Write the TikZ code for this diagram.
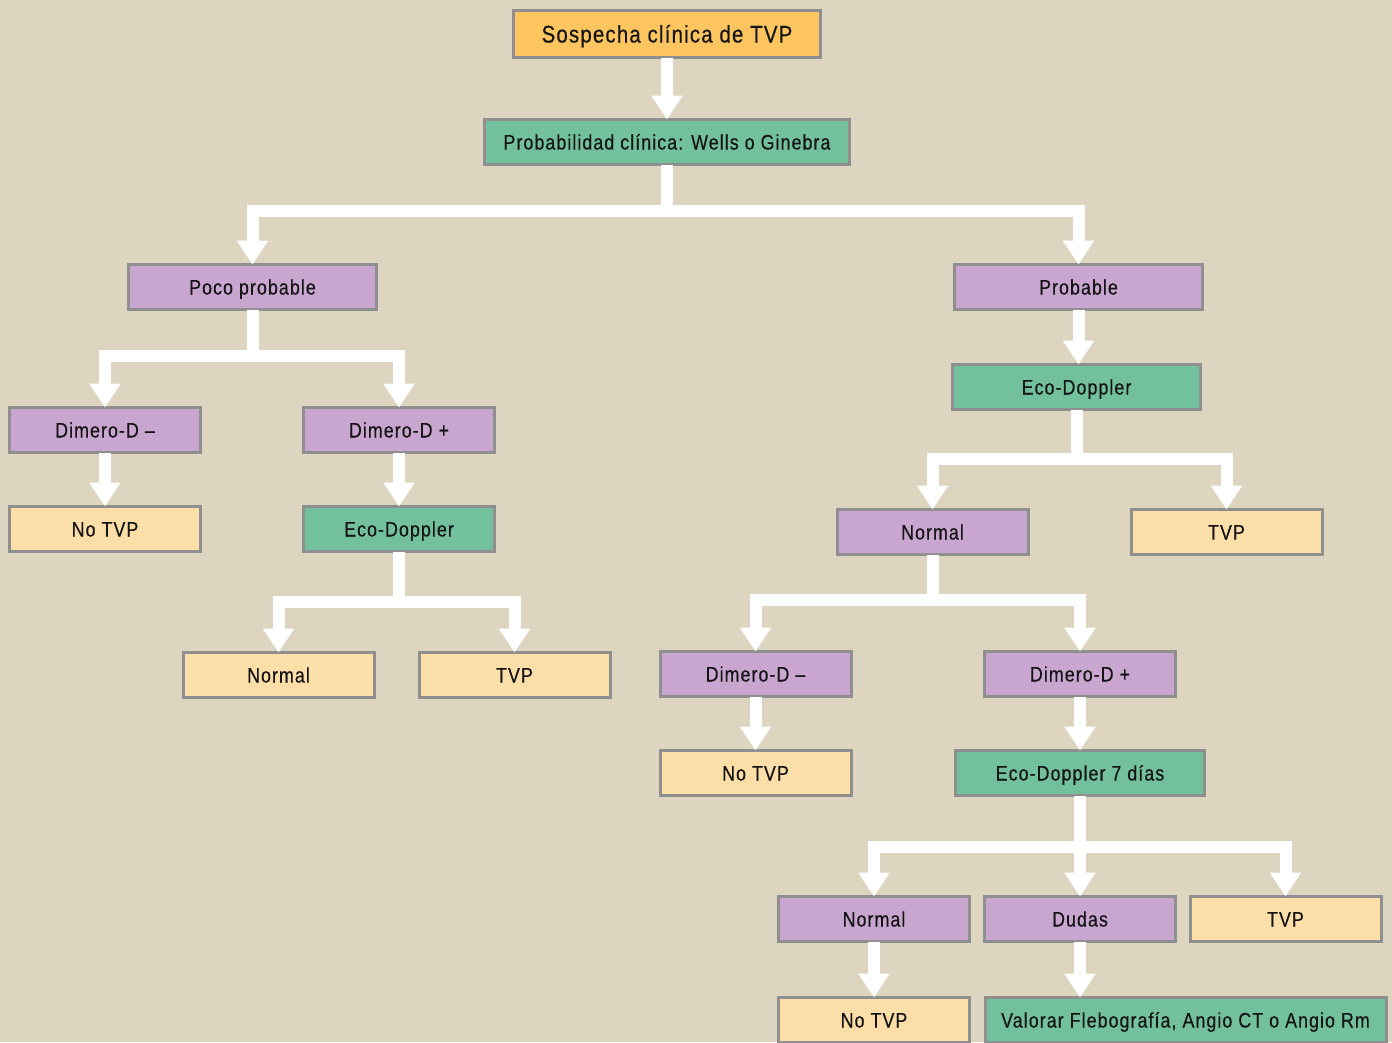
\documentclass[tikz,border=0pt]{standalone}
\usepackage{fontspec}
\setmainfont{Liberation Sans}[FakeStretch=0.85,LetterSpace=5,FakeBold=0.4]
\usetikzlibrary{arrows.meta}
\definecolor{bgc}{RGB}{221,213,191}
\definecolor{orangec}{RGB}{252,197,96}
\definecolor{greenc}{RGB}{115,192,156}
\definecolor{purplec}{RGB}{200,166,207}
\definecolor{creamc}{RGB}{252,222,169}
\definecolor{borderc}{RGB}{143,143,143}
\definecolor{textc}{RGB}{20,20,20}
\tikzset{
  box/.style={draw=borderc, line width=3pt, minimum height=45pt, minimum width=191pt,
    inner sep=0pt, outer sep=0pt, text=textc, text height=15pt, text depth=0pt,
    font=\fontsize{21}{24}\selectfont},
  orangebox/.style={box, fill=orangec},
  greenbox/.style={box, fill=greenc},
  purplebox/.style={box, fill=purplec},
  creambox/.style={box, fill=creamc},
  conn/.style={draw=white, line width=12pt, -{Triangle[width=30pt,length=24pt]}},
}
\begin{document}
\begin{tikzpicture}[x=1pt,y=-1pt]
\useasboundingbox (0,0) rectangle (1392,1042);
\clip (0,0) rectangle (1392,1042);
\fill[bgc] (0,0) rectangle (1392,1042);
% nodes
\node[orangebox, minimum width=307pt, minimum height=47pt, text height=17pt, font=\fontsize{24}{28}\selectfont] (sos) at (667,34) {Sospecha clínica de TVP};
\node[greenbox, minimum width=365pt] (prob) at (667,142) {Probabilidad clínica: Wells o Ginebra};
\node[purplebox, minimum width=248pt] (poco) at (252.5,287) {Poco probable};
\node[purplebox, minimum width=248pt] (probable) at (1078.5,287) {Probable};
\node[purplebox] (dimL) at (105,430) {Dimero-D –};
\node[purplebox] (dimPL) at (399,430) {Dimero-D +};
\node[creambox] (notvpL) at (105,529) {No TVP};
\node[greenbox] (ecoL) at (399,529) {Eco-Doppler};
\node[creambox] (normL) at (278.5,675) {Normal};
\node[creambox] (tvpL) at (514.5,675) {TVP};
\node[greenbox, minimum width=248pt] (ecoR) at (1076.5,387) {Eco-Doppler};
\node[purplebox] (normR) at (932.5,532) {Normal};
\node[creambox] (tvpR) at (1226.5,532) {TVP};
\node[purplebox] (dimR) at (755.5,674) {Dimero-D –};
\node[purplebox] (dimPR) at (1080,674) {Dimero-D +};
\node[creambox] (notvpR) at (755.5,773) {No TVP};
\node[greenbox, minimum width=249pt] (eco7) at (1080,773) {Eco-Doppler 7 días};
\node[purplebox] (normB) at (874,919) {Normal};
\node[purplebox] (dudas) at (1080,919) {Dudas};
\node[creambox] (tvpB) at (1285.5,919) {TVP};
\node[creambox] (notvpB) at (874,1020) {No TVP};
\node[greenbox, minimum width=401pt] (valorar) at (1185.5,1020) {Valorar Flebografía, Angio CT o Angio Rm};
% connectors
\draw[conn] (sos.south) -- (prob.north);
\draw[conn] (prob.south) -- ++(0,46.5) -| (poco.north);
\draw[conn] (prob.south) -- ++(0,46.5) -| (probable.north);
\draw[conn] (poco.south) -- ++(0,46.5) -| (dimL.north);
\draw[conn] (poco.south) -- ++(0,46.5) -| (dimPL.north);
\draw[conn] (dimL.south) -- (notvpL.north);
\draw[conn] (dimPL.south) -- (ecoL.north);
\draw[conn] (ecoL.south) -- ++(0,50.5) -| (normL.north);
\draw[conn] (ecoL.south) -- ++(0,50.5) -| (tvpL.north);
\draw[conn] (probable.south) -- (probable.south |- ecoR.north);
\draw[conn] (ecoR.south) -- ++(0,49.5) -| (normR.north);
\draw[conn] (ecoR.south) -- ++(0,49.5) -| (tvpR.north);
\draw[conn] (normR.south) -- ++(0,45.5) -| (dimR.north);
\draw[conn] (normR.south) -- ++(0,45.5) -| (dimPR.north);
\draw[conn] (dimR.south) -- (notvpR.north);
\draw[conn] (dimPR.south) -- (eco7.north);
\draw[conn] (eco7.south) -- ++(0,51.5) -| (normB.north);
\draw[conn] (eco7.south) -- (dudas.north);
\draw[conn] (eco7.south) -- ++(0,51.5) -| (tvpB.north);
\draw[conn] (normB.south) -- (notvpB.north);
\draw[conn] (dudas.south) -- (valorar.north -| dudas.south);
\end{tikzpicture}
\end{document}
